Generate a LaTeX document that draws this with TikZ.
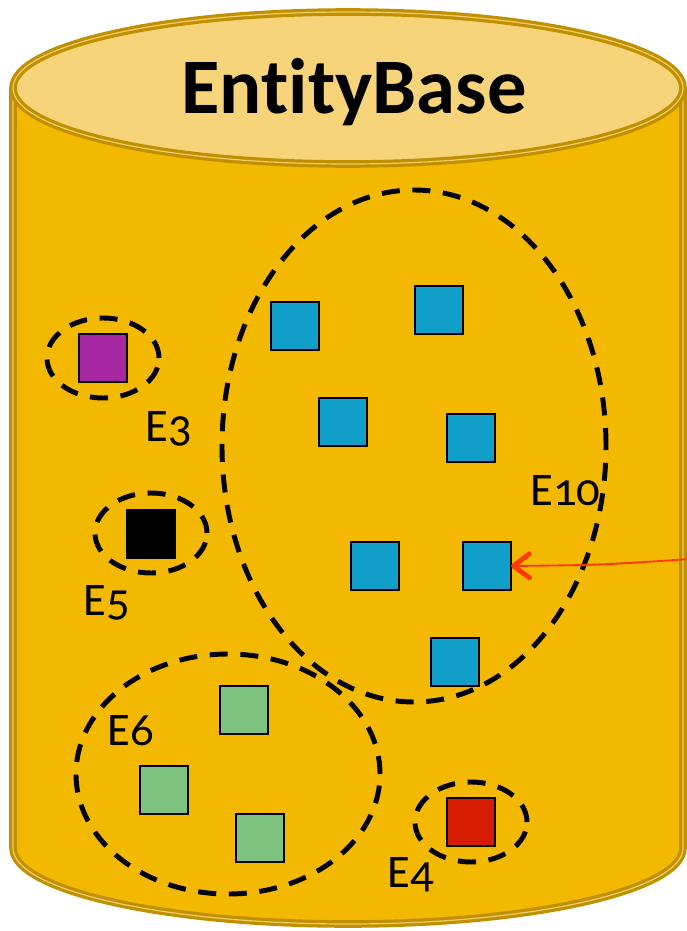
\documentclass[tikz,border=0pt]{standalone}
\usepackage{fontspec}
\setmainfont{Carlito}[Numbers=OldStyle, Ligatures={NoCommon}]
\usetikzlibrary{arrows.meta}
\definecolor{bodyc}{HTML}{F2B900}
\definecolor{topc}{HTML}{F7D47A}
\definecolor{rimc}{HTML}{C09000}
\definecolor{rimlight}{HTML}{F0CD6A}
\definecolor{bluec}{HTML}{119FC9}
\definecolor{purplec}{HTML}{A828A4}
\definecolor{greenc}{HTML}{7DC27F}
\definecolor{redc}{HTML}{D61C00}
\definecolor{arrowc}{HTML}{FF3800}
\tikzset{
  rim/.style={draw=rimc, line width=2.4pt, double=rimlight, double distance=0.9pt},
  ent/.style={draw=black, line width=1.3pt, minimum size=36pt, inner sep=0pt, outer sep=0pt},
  grp/.style={draw=black, line width=3.7pt, dash pattern=on 13.5pt off 9.5pt},
  lbl/.style={font=\fontsize{35}{40}\selectfont, inner sep=0pt, anchor=base west},
}
\begin{document}
\begin{tikzpicture}[x=0.75pt,y=0.75pt]
\useasboundingbox (0,0) rectangle (686,-931);
% cylinder body
\path[fill=bodyc] (13,-88) -- (13,-848) arc[start angle=180,end angle=360,x radius=335,y radius=76] -- (683,-88) -- cycle;
\draw[rim] (13,-88) -- (13,-848) arc[start angle=180,end angle=360,x radius=335,y radius=76] -- (683,-88);
% top
\draw[rim, fill=topc] (348,-88) ellipse[x radius=335, y radius=76];
\node[font=\bfseries\fontsize{59}{66}\selectfont, inner sep=0pt] (title) at (354,-92) {EntityBase};
% groups
\draw[grp] (414,-446) ellipse[x radius=192, y radius=256];
\draw[grp] (103,-358) ellipse[x radius=56, y radius=40];
\draw[grp] (151,-533) ellipse[x radius=56, y radius=40];
\draw[grp] (228,-774) ellipse[x radius=152, y radius=120];
\draw[grp] (471,-822) ellipse[x radius=56, y radius=40];
% entities
\node[ent, fill=bluec] (b1) at (295,-326) {};
\node[ent, fill=bluec] (b2) at (439,-310) {};
\node[ent, fill=bluec] (b3) at (343,-422) {};
\node[ent, fill=bluec] (b4) at (471,-438) {};
\node[ent, fill=bluec] (b5) at (375,-566) {};
\node[ent, fill=bluec] (b6) at (487,-566) {};
\node[ent, fill=bluec] (b7) at (455,-662) {};
\node[ent, fill=purplec] (p1) at (103,-358) {};
\node[ent, fill=black] (k1) at (151,-534) {};
\node[ent, fill=greenc] (g1) at (244,-710) {};
\node[ent, fill=greenc] (g2) at (164,-790) {};
\node[ent, fill=greenc] (g3) at (260,-838) {};
\node[ent, fill=redc] (r1) at (471,-822) {};
% labels
\node[lbl] (l3) at (145,-441) {E3};
\node[lbl] (l5) at (83,-615) {E5};
\node[lbl] (l10) at (530,-505) {E10};
\node[lbl] (l6) at (107,-745) {E6};
\node[lbl] (l4) at (387,-887) {E4};
% arrow
\coordinate (src) at (690,-559);
\draw[arrowc, line width=1.4pt, -{Straight Barb[length=12pt,width=18pt,line width=3.6pt,round]}] (src) .. controls (600,-565) .. (b6.east);
\end{tikzpicture}
\end{document}
